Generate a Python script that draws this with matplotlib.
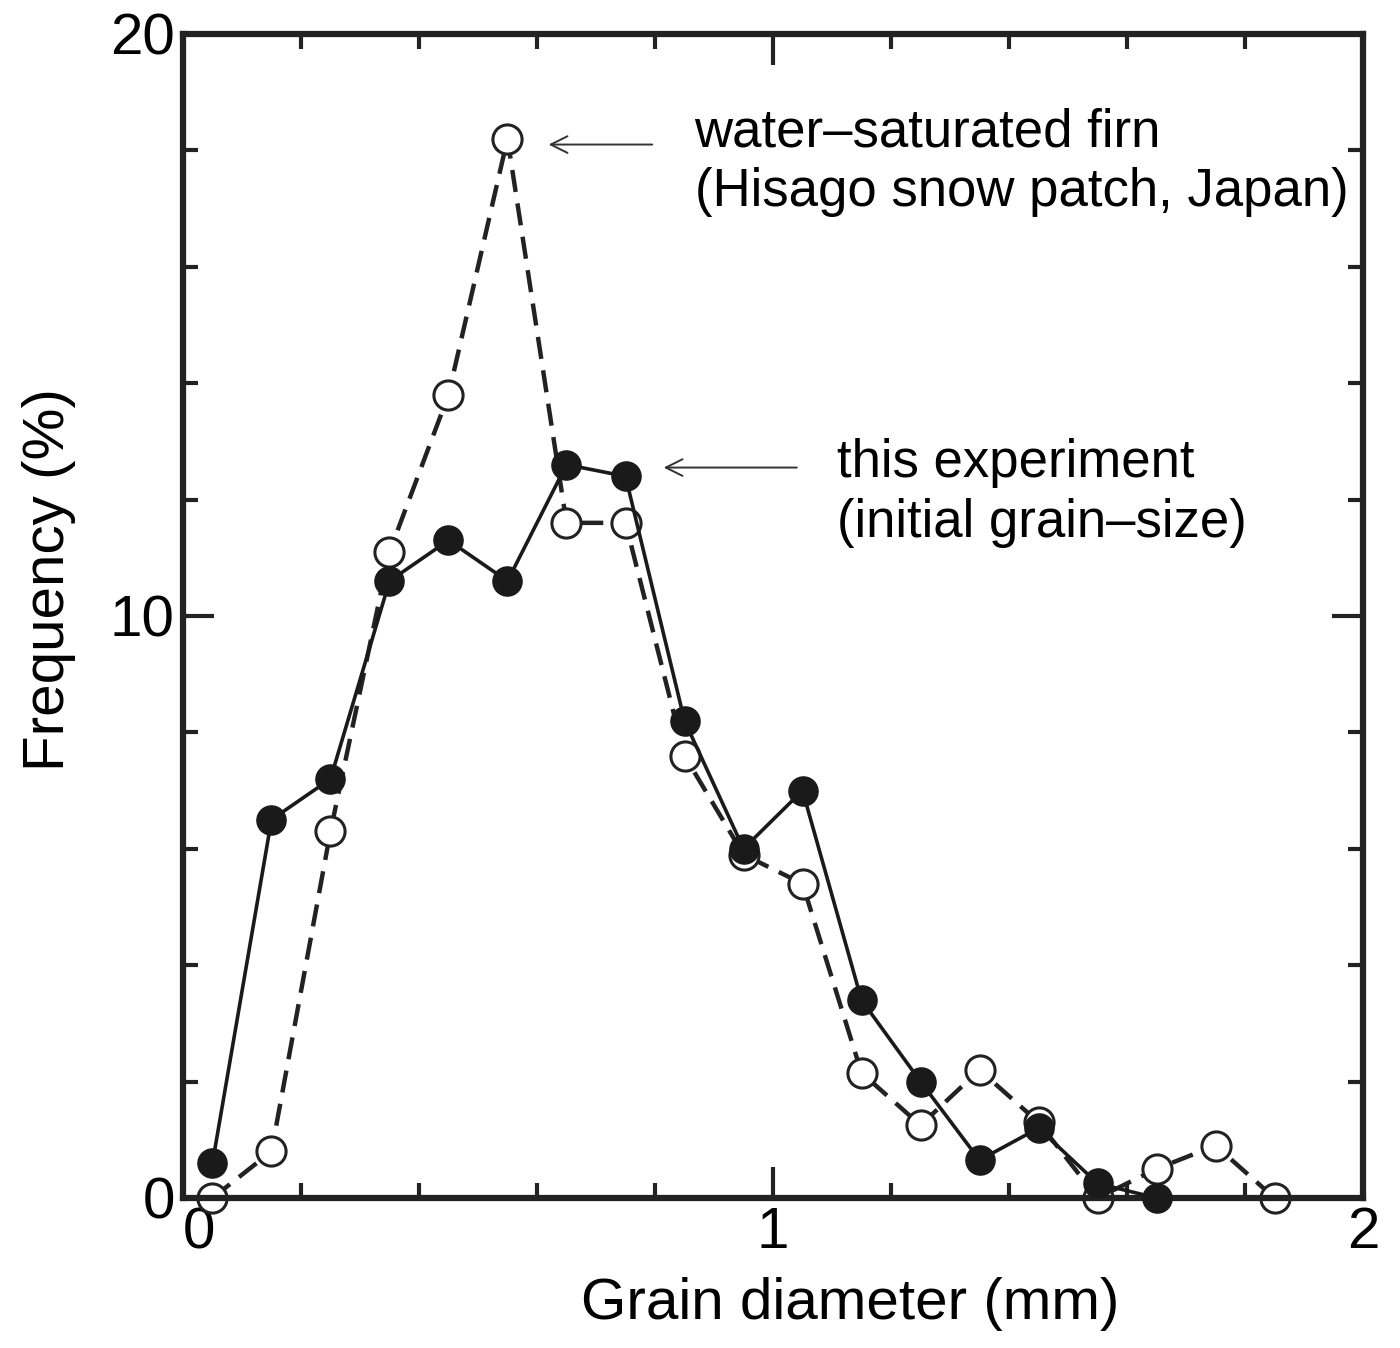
import numpy as np
import matplotlib.pyplot as plt
from matplotlib.ticker import MultipleLocator

plt.rcParams['font.family'] = ['Liberation Sans', 'DejaVu Sans']

# grain-size bins (mm, bin centres)
x_exp = [0.05, 0.15, 0.25, 0.35, 0.45, 0.55, 0.65, 0.75, 0.85, 0.95,
         1.05, 1.15, 1.25, 1.35, 1.45, 1.55, 1.65]
# this experiment (initial grain-size), filled circles
freq_exp = [0.6, 6.5, 7.2, 10.6, 11.3, 10.6, 12.6, 12.4, 8.2, 6.0,
            7.0, 3.4, 2.0, 0.65, 1.2, 0.25, 0.0]

x_firn = [0.05, 0.15, 0.25, 0.35, 0.45, 0.55, 0.65, 0.75, 0.85, 0.95,
          1.05, 1.15, 1.25, 1.35, 1.45, 1.55, 1.65, 1.75, 1.85]
# water-saturated firn (Hisago snow patch), open circles
freq_firn = [0.0, 0.8, 6.3, 11.1, 13.8, 18.2, 11.6, 11.6, 7.6, 5.9,
             5.4, 2.15, 1.25, 2.2, 1.3, 0.0, 0.5, 0.9, 0.0]

fig = plt.figure(figsize=(14, 13.48), dpi=100)
ax = fig.add_axes([0.1307, 0.1113, 0.8429, 0.8635])

ax.plot(x_firn, freq_firn, linestyle=(0, (5, 2.6)), color='#222222', lw=3.2,
        marker='o', ms=21, mfc='white', mec='#222222', mew=2.2,
        clip_on=False, zorder=2)
ax.plot(x_exp, freq_exp, linestyle='-', color='#1a1a1a', lw=2.6,
        marker='o', ms=21, mfc='#1a1a1a', mec='#1a1a1a',
        clip_on=False, zorder=3)

ax.set_xlim(0, 2)
ax.set_ylim(0, 20)
ax.set_xticks([0, 1, 2], labels=['0', '1', '2'])
ax.xaxis.set_minor_locator(MultipleLocator(0.2))
ax.yaxis.set_major_locator(MultipleLocator(10))
ax.yaxis.set_minor_locator(MultipleLocator(2))
ax.tick_params(which='both', direction='in', top=True, right=True,
               width=3, color='#222222')
ax.tick_params(which='major', length=22, labelsize=42, pad=6)
ax.tick_params(which='minor', length=11)
for s in ax.spines.values():
    s.set_linewidth(4.5)
    s.set_color('#222222')

# the x "0" sits a little right of its tick in the original
ax.xaxis.get_major_ticks()[0].label1.set_horizontalalignment('left')

ax.set_xlabel('Grain diameter (mm)', fontsize=42, labelpad=12)
ax.xaxis.label.set_x(0.565)
ax.set_ylabel('Frequency (%)', fontsize=42, labelpad=24)
ax.yaxis.label.set_y(0.531)

ax.annotate('', xy=(0.615, 18.1), xytext=(0.80, 18.1),
            arrowprops=dict(arrowstyle='->', lw=1.4, color='#333333',
                            mutation_scale=30))
ax.text(0.867, 18.3, 'water\u2013saturated firn', fontsize=38,
        va='center', ha='left')
ax.text(0.867, 17.28, '(Hisago snow patch, Japan)', fontsize=38,
        va='center', ha='left')

ax.annotate('', xy=(0.81, 12.55), xytext=(1.045, 12.55),
            arrowprops=dict(arrowstyle='->', lw=1.4, color='#333333',
                            mutation_scale=30))
ax.text(1.109, 12.63, 'this experiment', fontsize=38,
        va='center', ha='left')
ax.text(1.109, 11.6, '(initial grain\u2013size)', fontsize=38,
        va='center', ha='left')

fig.savefig('out.png', dpi=100)
